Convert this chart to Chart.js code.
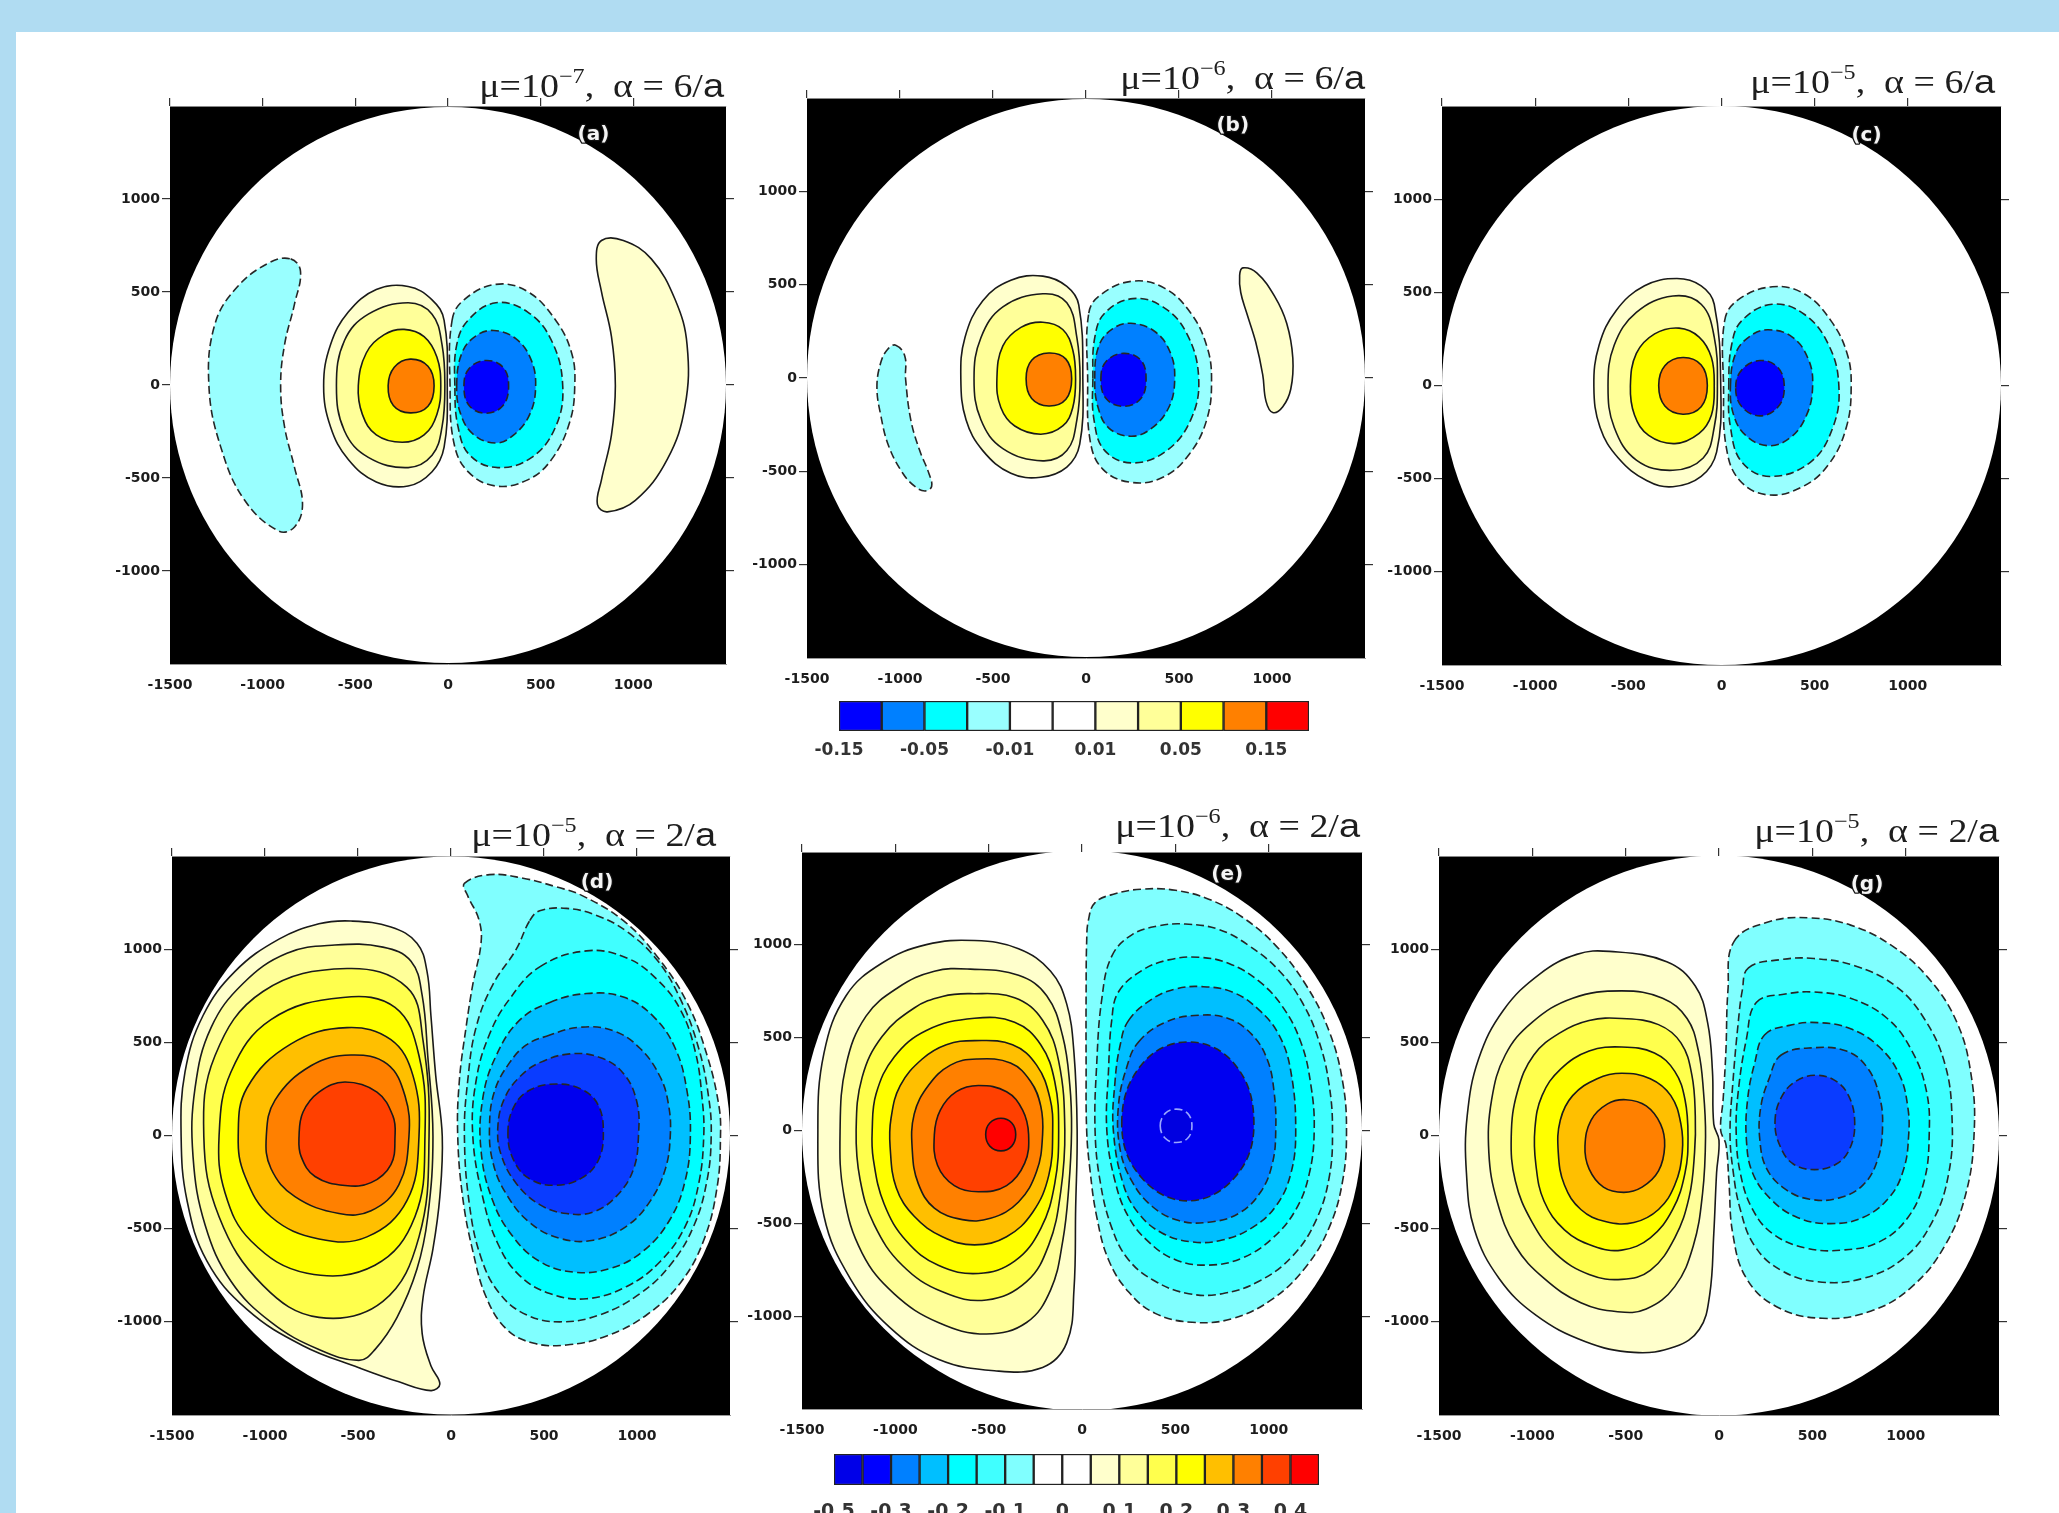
<!DOCTYPE html>
<html><head><meta charset="utf-8">
<script src="https://cdn.jsdelivr.net/npm/chart.js@4.4.1/dist/chart.umd.min.js"></script>
<style>
html,body{margin:0;padding:0;}
body{width:2059px;height:1513px;background:#b0dcf2;position:relative;overflow:hidden;}
#sheet{position:absolute;left:16px;top:32px;right:0;bottom:0;background:#fff;}
canvas{position:absolute;}
</style></head><body>
<div id="sheet"></div>
<script>
// ---------------- axis / tick data ----------------
const AXIS_MIN = -1500, AXIS_MAX = 1500, DISK_R = 1500;
const X_TICKS = [-1500, -1000, -500, 0, 500, 1000];
const Y_TICKS = [-1000, -500, 0, 500, 1000];
const MU_EXP = ['\u22127', '\u22126', '\u22125', '\u22125', '\u22126', '\u22125'];
const ALPHA = ['6', '6', '6', '2', '2', '2'];
const TAGS = ['(a)', '(b)', '(c)', '(d)', '(e)', '(g)'];
const TAG_X = [785, 789, 778, 785, 778, 793];
const TAG_Y = [1344, 1353, 1338, 1356, 1375, 1347];

// ---------------- contour outlines (data coords) ----------------
// panel (a)
const A_L = [[-849,678],[-796,612],[-828,436],[-882,216],[-903,-4],[-882,-224],[-828,-444],[-785,-642],[-828,-763],[-914,-785],[-1097,-620],[-1226,-334],[-1290,-4],[-1258,326],[-1140,524],[-968,656]];
const A_R = [[828,777],[800,678],[828,502],[882,260],[903,-4],[882,-268],[828,-510],[806,-642],[860,-682],[1011,-620],[1183,-400],[1279,-114],[1290,216],[1226,458],[1097,678],[946,777]];
const A_P1 = [[-21,348],[-86,458],[-215,530],[-387,513],[-538,392],[-634,216],[-671,-4],[-634,-224],[-538,-400],[-387,-521],[-215,-543],[-86,-466],[-21,-334],[-4,-4]];
const A_P2 = [[-602,-4],[-559,238],[-430,381],[-215,442],[-86,381],[-32,216],[-17,-4],[-32,-224],[-86,-378],[-215,-444],[-430,-389],[-559,-246]];
const A_P3 = [[-484,-4],[-441,172],[-344,271],[-237,299],[-129,260],[-60,150],[-39,-4],[-60,-158],[-129,-268],[-247,-308],[-387,-268],[-462,-158]];
const A_P4 = [[-323,-4],[-290,95],[-204,139],[-108,101],[-75,-4],[-108,-114],[-204,-150],[-295,-110]];
const A_N1 = [[22,348],[86,458],[258,541],[430,502],[581,348],[667,172],[684,-4],[656,-202],[559,-400],[430,-510],[258,-543],[108,-466],[32,-312],[11,-4]];
const A_N2 = [[37,-4],[47,216],[108,348],[258,442],[430,392],[559,238],[619,-4],[581,-224],[452,-389],[269,-444],[118,-378],[54,-224]];
const A_N3 = [[47,-4],[75,172],[151,264],[247,293],[366,249],[447,139],[473,-4],[441,-158],[355,-268],[258,-312],[140,-268],[69,-158]];
const A_N4 = [[86,-4],[114,88],[204,132],[297,95],[327,-4],[297,-110],[204,-152],[114,-110]];
// panel (b)
const B_L = [[-1023,176],[-974,117],[-970,-4],[-942,-224],[-894,-389],[-845,-510],[-830,-581],[-866,-605],[-920,-581],[-985,-510],[-1060,-367],[-1103,-202],[-1124,-48],[-1103,84],[-1066,154]];
const B_R = [[843,590],[918,563],[1015,436],[1079,293],[1112,106],[1101,-59],[1058,-154],[1004,-185],[968,-125],[950,18],[912,194],[864,348],[832,458],[826,550]];
const B_P1 = [[-39,392],[-103,491],[-232,546],[-404,524],[-555,414],[-651,216],[-673,-4],[-645,-224],[-555,-389],[-404,-510],[-243,-532],[-103,-477],[-34,-356],[-17,-4]];
const B_P2 = [[-602,-4],[-565,216],[-447,381],[-232,451],[-103,403],[-49,216],[-32,-4],[-49,-224],[-103,-389],[-232,-444],[-447,-378],[-565,-224]];
const B_P3 = [[-479,-4],[-447,172],[-350,271],[-232,299],[-125,260],[-71,150],[-56,-4],[-71,-158],[-125,-257],[-243,-301],[-383,-257],[-458,-158]];
const B_P4 = [[-322,-4],[-292,95],[-200,134],[-108,101],[-77,-4],[-108,-114],[-200,-150],[-292,-110]];
const B_N1 = [[15,348],[80,447],[252,519],[424,480],[563,348],[649,172],[675,-4],[649,-224],[553,-411],[413,-532],[241,-559],[90,-488],[22,-334],[9,-4]];
const B_N2 = [[37,-4],[47,216],[101,348],[252,425],[413,381],[542,238],[606,-4],[563,-224],[434,-389],[252,-455],[101,-389],[43,-224]];
const B_N3 = [[47,-4],[69,172],[144,264],[241,293],[370,249],[452,139],[477,-4],[445,-158],[348,-273],[241,-312],[123,-268],[65,-158]];
const B_N4 = [[80,-4],[108,88],[202,132],[295,95],[323,-4],[295,-110],[202,-152],[108,-110]];
// panel (c)
const C_P1 = [[-39,436],[-109,535],[-239,574],[-413,535],[-565,403],[-657,216],[-685,-4],[-652,-224],[-554,-389],[-402,-510],[-261,-543],[-109,-488],[-26,-356],[-4,-4]];
const C_P2 = [[-609,-4],[-576,216],[-457,392],[-261,480],[-109,436],[-39,260],[-22,-4],[-39,-224],[-98,-389],[-261,-455],[-457,-400],[-576,-224]];
const C_P3 = [[-489,-4],[-457,172],[-359,277],[-228,308],[-120,260],[-54,150],[-39,-4],[-54,-158],[-120,-257],[-250,-312],[-391,-268],[-467,-158]];
const C_P4 = [[-337,0],[-304,106],[-207,150],[-109,110],[-76,0],[-109,-114],[-207,-154],[-304,-110]];
const C_N1 = [[17,348],[87,458],[272,530],[446,491],[587,348],[674,172],[696,-4],[670,-224],[576,-422],[435,-543],[250,-587],[98,-510],[26,-334],[11,-4]];
const C_N2 = [[39,-4],[54,216],[109,348],[272,436],[446,381],[576,216],[630,-4],[598,-224],[478,-411],[261,-488],[109,-411],[48,-224]];
const C_N3 = [[48,-4],[76,172],[152,264],[250,299],[380,260],[467,139],[489,-4],[457,-158],[370,-279],[250,-323],[130,-268],[65,-158]];
const C_N4 = [[76,-11],[109,84],[207,134],[304,95],[337,-11],[304,-114],[207,-163],[109,-114]];
// panel (d)
const D_P1 = [[-538,1151],[-323,1119],[-183,1032],[-129,881],[-108,644],[-82,320],[-47,-4],[-60,-328],[-97,-609],[-150,-868],[-155,-1063],[-108,-1236],[-60,-1333],[-108,-1369],[-280,-1322],[-495,-1246],[-796,-1128],[-1097,-933],[-1312,-674],[-1419,-350],[-1451,-4],[-1430,341],[-1333,644],[-1161,881],[-925,1054],[-710,1136]];
const D_P2 = [[-624,1022],[-366,1011],[-215,935],[-155,752],[-125,428],[-97,-4],[-125,-436],[-183,-717],[-290,-976],[-409,-1149],[-495,-1207],[-710,-1149],[-968,-1002],[-1183,-782],[-1322,-480],[-1387,-112],[-1376,255],[-1290,579],[-1118,816],[-882,978]];
const D_P3 = [[-559,896],[-237,795],[-151,514],[-118,-4],[-172,-544],[-366,-890],[-710,-976],[-1011,-804],[-1247,-436],[-1329,-4],[-1269,428],[-1011,773]];
const D_P4 = [[-581,741],[-301,687],[-172,428],[-140,-4],[-194,-436],[-409,-696],[-774,-739],[-1075,-566],[-1215,-307],[-1247,-4],[-1183,341],[-968,622]];
const D_P5 = [[-559,579],[-323,514],[-204,320],[-172,-4],[-237,-350],[-452,-544],[-710,-555],[-968,-436],[-1107,-220],[-1144,-4],[-1097,255],[-860,492]];
const D_P6 = [[-538,432],[-344,384],[-247,212],[-226,-4],[-280,-264],[-430,-404],[-602,-419],[-839,-328],[-968,-177],[-993,-4],[-946,190],[-753,374]];
const D_P7 = [[-570,287],[-398,233],[-312,104],[-301,-4],[-323,-156],[-430,-253],[-570,-268],[-731,-220],[-806,-112],[-817,-4],[-796,125],[-710,233]];
const D_N1 = [[72,1353],[207,1400],[387,1381],[567,1334],[700,1290],[927,1153],[1107,962],[1269,714],[1377,429],[1440,162],[1449,0],[1431,-276],[1359,-562],[1233,-791],[1053,-962],[837,-1076],[621,-1124],[441,-1114],[297,-1038],[189,-867],[117,-619],[63,-333],[36,0],[45,295],[81,581],[117,810],[162,1038],[149,1162],[90,1286]];
const D_N2 = [[423,1153],[477,1206],[621,1219],[783,1181],[945,1095],[1107,943],[1233,733],[1332,467],[1386,200],[1399,0],[1377,-238],[1305,-486],[1179,-695],[1017,-848],[801,-962],[585,-1000],[405,-962],[261,-848],[162,-657],[99,-371],[72,0],[90,295],[135,581],[225,810],[351,1000]];
const D_N3 = [[477,905],[729,991],[945,953],[1107,838],[1233,676],[1314,448],[1350,200],[1359,0],[1332,-257],[1260,-486],[1125,-676],[945,-810],[729,-876],[531,-848],[369,-752],[252,-581],[171,-333],[117,0],[135,295],[207,543],[315,733]];
const D_N4 = [[531,714],[729,762],[927,743],[1089,638],[1206,467],[1269,238],[1287,0],[1260,-238],[1179,-448],[1035,-619],[855,-714],[657,-733],[477,-676],[333,-543],[225,-352],[162,-86],[171,200],[243,429],[369,619]];
const D_N5 = [[513,533],[693,581],[873,562],[1017,467],[1125,314],[1170,162],[1179,0],[1152,-181],[1071,-352],[945,-486],[765,-562],[585,-552],[423,-467],[297,-314],[225,-143],[207,48],[234,238],[315,391],[405,486]];
const D_N6 = [[477,391],[639,438],[801,419],[927,333],[999,181],[1008,0],[981,-181],[891,-324],[765,-410],[621,-419],[477,-371],[351,-257],[270,-105],[252,48],[288,200],[369,314]];
const D_N7 = [[306,10],[342,162],[432,248],[567,276],[702,248],[792,162],[819,10],[792,-133],[702,-229],[567,-267],[432,-238],[342,-143]];
// panel (e)
const E_P1 = [[-576,1023],[-340,979],[-168,858],[-82,682],[-43,418],[-26,0],[-34,-418],[-43,-858],[-82,-1144],[-211,-1276],[-469,-1294],[-770,-1232],[-1030,-1060],[-1240,-800],[-1382,-462],[-1415,0],[-1382,418],[-1264,726],[-1071,902],[-834,1001]];
const E_P2 = [[-598,869],[-340,836],[-189,726],[-103,506],[-65,242],[-56,0],[-71,-308],[-103,-594],[-168,-858],[-297,-1034],[-512,-1096],[-770,-1034],[-1006,-880],[-1178,-660],[-1275,-352],[-1296,0],[-1264,352],[-1157,616],[-985,770],[-791,858]];
const E_P3 = [[-598,737],[-361,715],[-211,594],[-125,374],[-92,0],[-114,-330],[-178,-616],[-297,-814],[-512,-913],[-748,-869],[-963,-726],[-1114,-506],[-1189,-264],[-1210,0],[-1178,286],[-1071,506],[-899,660],[-748,722]];
const E_P4 = [[-576,605],[-361,583],[-221,462],[-146,264],[-125,0],[-146,-286],[-221,-528],[-361,-704],[-555,-770],[-770,-726],[-942,-594],[-1060,-396],[-1118,-154],[-1124,0],[-1103,198],[-1006,396],[-834,539]];
const E_P5 = [[-576,484],[-372,462],[-243,352],[-172,176],[-157,0],[-178,-242],[-264,-440],[-404,-572],[-576,-616],[-748,-572],[-899,-462],[-995,-308],[-1028,-88],[-1023,66],[-974,242],[-856,385],[-727,462]];
const E_P6 = [[-565,385],[-383,363],[-275,264],[-221,132],[-211,-22],[-243,-220],[-340,-385],[-490,-473],[-641,-480],[-791,-418],[-877,-286],[-909,-110],[-899,88],[-823,242],[-705,352]];
const E_P7 = [[-555,242],[-404,209],[-318,110],[-286,-22],[-307,-176],[-404,-297],[-555,-330],[-684,-297],[-774,-187],[-791,-22],[-759,110],[-673,209]];
const E_P8 = [[-516,-22],[-494,40],[-434,66],[-376,40],[-355,-22],[-376,-84],[-434,-110],[-494,-84]];
const E_N1 = [[34,1131],[70,1227],[177,1275],[321,1300],[500,1294],[679,1246],[858,1150],[1038,996],[1199,785],[1324,535],[1396,265],[1417,0],[1396,-273],[1324,-523],[1199,-735],[1020,-908],[805,-1013],[590,-1033],[392,-985],[249,-869],[142,-696],[79,-465],[43,-215],[25,0],[22,362],[22,746],[25,1015]];
const E_N2 = [[159,938],[267,1054],[410,1102],[554,1112],[733,1083],[894,996],[1055,862],[1181,688],[1271,477],[1324,246],[1342,0],[1324,-254],[1253,-485],[1127,-677],[948,-812],[751,-879],[572,-879],[392,-812],[249,-696],[159,-523],[97,-273],[70,0],[79,362],[106,708]];
const E_N3 = [[195,746],[321,862],[464,919],[625,933],[787,900],[948,804],[1073,669],[1172,477],[1226,246],[1244,0],[1217,-235],[1145,-427],[1020,-581],[858,-687],[679,-725],[500,-696],[357,-600],[249,-465],[177,-273],[133,0],[142,323],[159,592]];
const E_N4 = [[249,592],[375,708],[500,762],[643,775],[805,746],[948,650],[1055,515],[1118,323],[1145,0],[1118,-235],[1038,-408],[912,-523],[751,-590],[590,-600],[428,-552],[303,-446],[222,-292],[168,0],[177,265],[204,458]];
const E_N5 = [[303,477],[446,583],[625,621],[787,602],[912,515],[993,381],[1029,208],[1038,0],[1020,-177],[957,-331],[840,-446],[679,-494],[518,-485],[375,-408],[267,-273],[204,-100],[195,131],[240,342]];
const E_N6 = [[213,35],[317,352],[566,477],[819,356],[921,35],[819,-252],[566,-379],[317,-252]];
const E_N7 = [[419,25],[446,92],[505,115],[566,92],[589,25],[566,-42],[505,-65],[446,-42]];
// panel (g)
const G_P1 = [[-587,988],[-280,933],[-127,802],[-61,606],[-35,344],[-28,61],[0,-26],[-13,-201],[-28,-528],[-50,-855],[-105,-1040],[-237,-1134],[-456,-1164],[-718,-1105],[-981,-964],[-1178,-767],[-1310,-506],[-1353,-201],[-1349,105],[-1288,410],[-1156,671],[-959,868],[-762,972]];
const G_P2 = [[-521,776],[-302,737],[-171,628],[-110,453],[-83,235],[-72,-4],[-88,-310],[-138,-593],[-237,-811],[-390,-931],[-543,-946],[-740,-898],[-937,-767],[-1091,-593],[-1189,-353],[-1233,-92],[-1218,192],[-1145,432],[-1003,606],[-784,737]];
const G_P3 = [[-521,628],[-324,595],[-204,497],[-145,323],[-127,105],[-131,-92],[-160,-331],[-237,-549],[-368,-724],[-521,-772],[-696,-746],[-872,-637],[-1003,-462],[-1091,-244],[-1113,-4],[-1080,235],[-992,432],[-850,552],[-696,617]];
const G_P4 = [[-521,475],[-346,443],[-237,344],[-182,192],[-166,-4],[-182,-201],[-248,-397],[-368,-549],[-521,-615],[-675,-593],[-828,-506],[-937,-353],[-981,-157],[-986,39],[-948,214],[-850,355],[-696,453]];
const G_P5 = [[-521,334],[-368,305],[-258,214],[-204,61],[-197,-92],[-237,-266],[-324,-397],[-456,-467],[-609,-462],[-740,-397],[-828,-266],[-861,-92],[-850,83],[-784,214],[-653,305]];
const G_P6 = [[-718,-57],[-685,83],[-597,170],[-499,192],[-390,159],[-313,61],[-291,-57],[-324,-190],[-412,-277],[-510,-305],[-619,-277],[-696,-179]];
const G_N1 = [[81,1042],[267,1147],[486,1168],[705,1129],[924,1020],[1121,846],[1275,606],[1351,323],[1367,17],[1323,-310],[1209,-593],[1034,-811],[815,-942],[552,-981],[311,-920],[147,-767],[74,-528],[53,-244],[37,-48],[9,28],[22,192],[37,453],[48,780]];
const G_N2 = [[158,900],[333,944],[508,950],[727,911],[946,802],[1099,628],[1209,388],[1248,105],[1231,-201],[1143,-462],[990,-658],[771,-767],[530,-785],[333,-724],[191,-593],[114,-397],[74,-179],[59,17],[74,279],[103,606],[125,780]];
const G_N3 = [[201,715],[355,759],[508,770],[705,737],[902,628],[1034,453],[1112,235],[1126,0],[1099,-244],[1012,-440],[859,-571],[661,-615],[464,-604],[289,-528],[180,-397],[114,-201],[92,17],[103,235],[147,519]];
const G_N4 = [[245,541],[377,591],[530,606],[705,573],[859,475],[968,323],[1012,148],[1016,0],[990,-179],[913,-331],[771,-440],[596,-473],[420,-440],[278,-342],[180,-201],[147,-26],[153,192],[191,388]];
const G_N5 = [[333,432],[508,471],[683,453],[793,366],[859,214],[876,39],[848,-135],[771,-266],[640,-336],[486,-342],[355,-288],[256,-179],[219,-26],[223,148],[267,301]];
const G_N6 = [[300,72],[333,203],[410,290],[512,323],[618,297],[694,214],[727,72],[701,-70],[629,-153],[512,-183],[398,-153],[328,-59]];

// ---------------- colour bars ----------------
const CB1_CELLS = [1,1,1,1,1,1,1,1,1,1,1];
const CB1_TICK_POS = [0, 2, 4, 6, 8, 10];
const CB1_LABELS = ['-0.15', '-0.05', '-0.01', '0.01', '0.05', '0.15'];
const CB2_CELLS = [1,1,1,1,1,1,1,1,1,1,1,1,1,1,1,1,1];
const CB2_TICK_POS = [0, 2, 4, 6, 8, 10, 12, 14, 16];
const CB2_LABELS = ['-0.5', '-0.3', '-0.2', '-0.1', '0', '0.1', '0.2', '0.3', '0.4'];

// ---------------- styles / layout ----------------
const CB1_COLORS = ['#0000ff','#0080ff','#00ffff','#99ffff','#ffffff','#ffffff','#ffffcc','#ffff99','#ffff00','#ff8000','#ff0000'];
const CB2_COLORS = ['#0000e8','#0000ff','#0080ff','#00bfff','#00ffff','#40ffff','#80ffff','#ffffff','#ffffff','#ffffcc','#ffff99','#ffff4d','#ffff00','#ffbf00','#ff8000','#ff4000','#ff0000'];
const POS_A = ['#ffffcc','#ffff99','#ffff00','#ff8000'];
const NEG_A = ['#99ffff','#00ffff','#0080ff','#0000ff'];
const POS_D = ['#ffffcc','#ffff99','#ffff4d','#ffff00','#ffbf00','#ff8000','#ff4000','#ff0000'];
const NEG_D = ['#80ffff','#40ffff','#00ffff','#00bfff','#0080ff','#0a3cff','#0000ee'];
const NEG_E = ['#80ffff','#40ffff','#00ffff','#00bfff','#0080ff','#0000f0','#0000e0'];
const NEG_G = ['#80ffff','#40ffff','#00ffff','#00bfff','#0080ff','#0a3cff'];

const PANEL_RECT = [[170,106,556,558],[807,98,558,560],[1442,106,559,559],[172,856,558,559],[802,852,560,557],[1439,856,560,559]];
const TITLE_OFF = [[2,9],[0,9],[6,13],[14,10],[2,15],[0,14]];
const ML = 80, MR = 20, MT = 70, MB = 40;

function L(pts, color, neg, extra) { return Object.assign({pts, color, neg}, extra || {}); }
const PANEL_LAYERS = [
  [L(A_L,NEG_A[0],true), L(A_R,POS_A[0],false), L(A_P1,POS_A[0]), L(A_P2,POS_A[1]), L(A_P3,POS_A[2]), L(A_P4,POS_A[3]),
   L(A_N1,NEG_A[0],true), L(A_N2,NEG_A[1],true), L(A_N3,NEG_A[2],true), L(A_N4,NEG_A[3],true)],
  [L(B_L,NEG_A[0],true), L(B_R,POS_A[0],false), L(B_P1,POS_A[0]), L(B_P2,POS_A[1]), L(B_P3,POS_A[2]), L(B_P4,POS_A[3]),
   L(B_N1,NEG_A[0],true), L(B_N2,NEG_A[1],true), L(B_N3,NEG_A[2],true), L(B_N4,NEG_A[3],true)],
  [L(C_P1,POS_A[0]), L(C_P2,POS_A[1]), L(C_P3,POS_A[2]), L(C_P4,POS_A[3]),
   L(C_N1,NEG_A[0],true), L(C_N2,NEG_A[1],true), L(C_N3,NEG_A[2],true), L(C_N4,NEG_A[3],true)],
  [L(D_P1,POS_D[0]), L(D_P2,POS_D[1]), L(D_P3,POS_D[2]), L(D_P4,POS_D[3]), L(D_P5,POS_D[4]), L(D_P6,POS_D[5]), L(D_P7,POS_D[6]),
   L(D_N1,NEG_D[0],true), L(D_N2,NEG_D[1],true), L(D_N3,NEG_D[2],true), L(D_N4,NEG_D[3],true), L(D_N5,NEG_D[4],true), L(D_N6,NEG_D[5],true), L(D_N7,NEG_D[6],true)],
  [L(E_P1,POS_D[0]), L(E_P2,POS_D[1]), L(E_P3,POS_D[2]), L(E_P4,POS_D[3]), L(E_P5,POS_D[4]), L(E_P6,POS_D[5]), L(E_P7,POS_D[6]), L(E_P8,POS_D[7]),
   L(E_N1,NEG_E[0],true), L(E_N2,NEG_E[1],true), L(E_N3,NEG_E[2],true), L(E_N4,NEG_E[3],true), L(E_N5,NEG_E[4],true), L(E_N6,NEG_E[5],true), L(E_N7,NEG_E[6],true,{line:'#9aa6ff'})],
  [L(G_P1,POS_D[0]), L(G_P2,POS_D[1]), L(G_P3,POS_D[2]), L(G_P4,POS_D[3]), L(G_P5,POS_D[4]), L(G_P6,POS_D[5]),
   L(G_N1,NEG_G[0],true), L(G_N2,NEG_G[1],true), L(G_N3,NEG_G[2],true), L(G_N4,NEG_G[3],true), L(G_N5,NEG_G[4],true), L(G_N6,NEG_G[5],true)]
];

const TICK_FONT = {family: '"DejaVu Sans", Verdana, sans-serif', size: 14, weight: 'bold'};
const SERIF = '"Liberation Serif", "Times New Roman", serif';
const SANS = '"Liberation Sans", Arial, sans-serif';

// ---------------- plugins ----------------
const loopPlugin = {
  id: 'closedContours',
  afterDatasetsUpdate(chart) {
    chart.data.datasets.forEach((ds, i) => {
      if (!ds.closed) return;
      const line = chart.getDatasetMeta(i).dataset;
      if (!line) return;
      line._loop = true; line._fullLoop = true;
      line._segments = undefined; line._path = undefined; line._pointsUpdated = false;
    });
  }
};
const bgPlugin = {
  id: 'blackField',
  beforeDraw(chart) {
    const {ctx, chartArea: a} = chart;
    ctx.save(); ctx.fillStyle = '#000'; ctx.fillRect(a.left, a.top, a.right - a.left, a.bottom - a.top); ctx.restore();
  }
};
function makeTitlePlugin(i) {
  return {
    id: 'panelTitle' + i,
    afterDraw(chart) {
      const {ctx, chartArea} = chart;
      const parts = [
        {t: '\u03bc=10', f: '33px ' + SERIF, dy: 0},
        {t: MU_EXP[i], f: '21px ' + SERIF, dy: -14},
        {t: ',  \u03b1 = ' + ALPHA[i] + '/', f: '33px ' + SERIF, dy: 0},
        {t: 'a', f: '33px ' + SANS, dy: 0}
      ];
      const sx = 1.15;
      ctx.save();
      let total = 0;
      parts.forEach(p => { ctx.font = p.f; p.w = ctx.measureText(p.t).width; total += p.w; });
      const right = chartArea.right - TITLE_OFF[i][0];
      const base = chartArea.top - TITLE_OFF[i][1];
      ctx.translate(right - total * sx, base);
      ctx.scale(sx, 1);
      ctx.fillStyle = '#1e1e1e';
      ctx.textBaseline = 'alphabetic';
      ctx.textAlign = 'left';
      let x = 0;
      parts.forEach(p => { ctx.font = p.f; ctx.fillText(p.t, x, p.dy); x += p.w; });
      ctx.restore();
    }
  };
}
function makeTagPlugin(i) {
  return {
    id: 'panelTag' + i,
    afterDatasetsDraw(chart) {
      const {ctx} = chart;
      const x = chart.scales.x.getPixelForValue(TAG_X[i]);
      const y = chart.scales.y.getPixelForValue(TAG_Y[i]);
      ctx.save();
      ctx.font = 'bold 20px "DejaVu Sans", Verdana, sans-serif';
      ctx.textAlign = 'center'; ctx.textBaseline = 'middle';
      ctx.lineWidth = 2.5; ctx.strokeStyle = '#111'; ctx.lineJoin = 'round';
      ctx.strokeText(TAGS[i], x, y);
      ctx.fillStyle = '#f4f4f4';
      ctx.fillText(TAGS[i], x, y);
      ctx.restore();
    }
  };
}

// ---------------- panels ----------------
function setTicks(list) { return ax => { ax.ticks = list.map(v => ({value: v})); }; }

function buildPanel(i) {
  const [PL, PT, PW, PH] = PANEL_RECT[i];
  const cv = document.createElement('canvas');
  cv.width = PW + ML + MR; cv.height = PH + MT + MB;
  cv.style.left = (PL - ML) + 'px'; cv.style.top = (PT - MT) + 'px';
  document.body.appendChild(cv);

  const layers = PANEL_LAYERS[i];
  const diskPx = c => { const s = c.chart.scales.x; return Math.abs(s.getPixelForValue(DISK_R) - s.getPixelForValue(0)); };
  const datasets = [{
    data: [{x: 0, y: 0}], showLine: false, fill: false,
    pointRadius: diskPx, pointHoverRadius: diskPx,
    pointBackgroundColor: '#ffffff', pointBorderWidth: 0, pointBorderColor: '#ffffff',
    order: 1000
  }];
  layers.forEach((ly, k) => {
    datasets.push({
      data: ly.pts.map(p => ({x: p[0], y: p[1]})),
      closed: true, fill: 'shape',
      backgroundColor: ly.color,
      borderColor: ly.line || (ly.neg ? '#262626' : '#1a1a1a'),
      borderWidth: 1.6,
      borderDash: ly.neg ? [8, 4] : [],
      pointRadius: 0, pointHoverRadius: 0,
      tension: 0.4,
      order: 900 - k
    });
  });

  new Chart(cv, {
    type: 'line',
    data: {datasets},
    options: {
      responsive: false, animation: false, devicePixelRatio: 1, events: [],
      layout: {padding: 0},
      plugins: {legend: {display: false}, tooltip: {enabled: false}, title: {display: false}},
      scales: {
        x: {type: 'linear', position: 'bottom', min: AXIS_MIN, max: AXIS_MAX,
            afterBuildTicks: setTicks(X_TICKS), afterFit: ax => { ax.height = MB; },
            grid: {display: false}, border: {display: true, color: '#9a9a9a', width: 1},
            ticks: {font: TICK_FONT, color: '#1c1c1c', padding: 5, autoSkip: false, maxRotation: 0, callback: v => String(v)}},
        xTop: {type: 'linear', position: 'top', min: AXIS_MIN, max: AXIS_MAX,
            afterBuildTicks: setTicks(X_TICKS), afterFit: ax => { ax.height = MT; },
            grid: {display: true, drawOnChartArea: false, drawTicks: true, tickLength: 8, color: '#333', lineWidth: 1.2},
            border: {display: true, color: '#888', width: 1},
            ticks: {display: false}},
        y: {type: 'linear', position: 'left', min: AXIS_MIN, max: AXIS_MAX,
            afterBuildTicks: setTicks(Y_TICKS), afterFit: ax => { ax.width = ML; },
            grid: {display: true, drawOnChartArea: false, drawTicks: true, tickLength: 8, color: '#333', lineWidth: 1.2},
            border: {display: false},
            ticks: {font: TICK_FONT, color: '#1c1c1c', padding: 2, autoSkip: false, callback: v => String(v)}},
        yRight: {type: 'linear', position: 'right', min: AXIS_MIN, max: AXIS_MAX,
            afterBuildTicks: setTicks(Y_TICKS), afterFit: ax => { ax.width = MR; },
            grid: {display: true, drawOnChartArea: false, drawTicks: true, tickLength: 8, color: '#333', lineWidth: 1.2},
            border: {display: false},
            ticks: {display: false}}
      }
    },
    plugins: [bgPlugin, loopPlugin, makeTitlePlugin(i), makeTagPlugin(i)]
  });
}

// ---------------- colour bars ----------------
function buildColorbar(cells, colors, tickPos, labels, rect, fontSize, pad, bottomH) {
  const [BL, BT, BW, BH] = rect;
  const cv = document.createElement('canvas');
  cv.width = BW + 100; cv.height = 6 + BH + bottomH;
  cv.style.left = (BL - 50) + 'px'; cv.style.top = (BT - 6) + 'px';
  document.body.appendChild(cv);
  new Chart(cv, {
    type: 'bar',
    data: {labels: [''], datasets: cells.map((v, k) => ({
      data: [v], backgroundColor: colors[k], borderColor: '#222', borderWidth: 1.5,
      borderSkipped: false, barPercentage: 1, categoryPercentage: 1
    }))},
    options: {
      indexAxis: 'y', responsive: false, animation: false, devicePixelRatio: 1, events: [],
      layout: {padding: {left: 50, right: 50, top: 6, bottom: 0}},
      plugins: {legend: {display: false}, tooltip: {enabled: false}},
      scales: {
        x: {type: 'linear', stacked: true, min: 0, max: cells.length,
            afterBuildTicks: setTicks(tickPos), afterFit: ax => { ax.height = bottomH; },
            grid: {display: false}, border: {display: false},
            ticks: {autoSkip: false, maxRotation: 0, padding: pad, color: '#333',
                    font: {family: '"DejaVu Sans", Verdana, sans-serif', size: fontSize, weight: 'bold'},
                    callback: (v, idx) => labels[idx]}},
        y: {stacked: true, display: false}
      }
    }
  });
}

for (let i = 0; i < 6; i++) buildPanel(i);
buildColorbar(CB1_CELLS, CB1_COLORS, CB1_TICK_POS, CB1_LABELS, [839, 701, 470, 30], 17, 1, 34);
buildColorbar(CB2_CELLS, CB2_COLORS, CB2_TICK_POS, CB2_LABELS, [834, 1454, 485, 31], 19, 8, 28);
</script>
</body></html>
